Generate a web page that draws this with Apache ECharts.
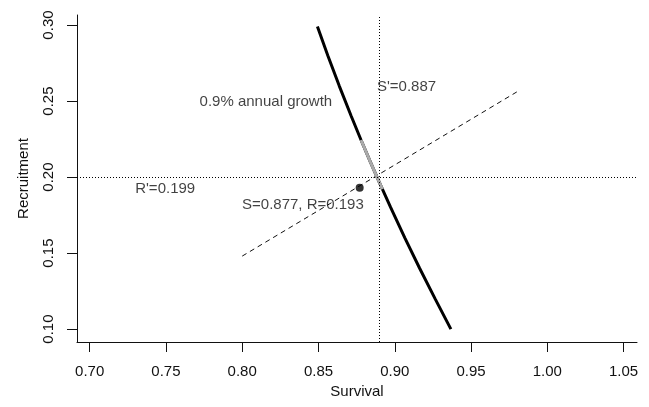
<!DOCTYPE html>
<html>
<head>
<meta charset="utf-8">
<script src="https://cdn.jsdelivr.net/npm/echarts@6/dist/echarts.min.js"></script>
<style>
html,body{margin:0;padding:0;background:#fff;}
#chart{width:649px;height:407px;}
</style>
</head>
<body>
<div id="chart"></div>
<script>
// ---- data ----
const xTicks = [0.70, 0.75, 0.80, 0.85, 0.90, 0.95, 1.00, 1.05];
const yTicks = [0.10, 0.15, 0.20, 0.25, 0.30];

// growth isocline (0.9% annual growth): survival vs recruitment
const curveS = [0.8493, 0.8561, 0.8636, 0.8715, 0.8779, 0.8840, 0.8888, 0.8919, 0.8973, 0.9066, 0.9163, 0.9264, 0.9368];
const curveR = [0.299, 0.280, 0.260, 0.240, 0.2244, 0.210, 0.199, 0.192, 0.180, 0.160, 0.140, 0.120, 0.100];

// grey highlighted part of the isocline
const greyS = [0.8779, 0.8840, 0.8888, 0.8919];
const greyR = [0.2244, 0.210, 0.199, 0.192];

// dashed line
const dashS = [0.800, 0.980];
const dashR = [0.148, 0.256];

// observed point
const pointS = [0.877];
const pointR = [0.193];

// reference lines
const sPrime = 0.887;
const rPrime = 0.199;

// annotations
const annTexts = ["0.9% annual growth", "S'=0.887", "R'=0.199", "S=0.877, R=0.193"];
const annS = [0.8155, 0.887, 0.7495, 0.8398];
const annR = [0.2496, 0.2595, 0.192, 0.1817];
const annPos = ['inside', 'right', 'inside', 'inside'];

// ---- chart ----
const zip = (a, b) => a.map((v, i) => [v, b[i]]);
const txt = '#111111';
const font = 'Liberation Sans, Arial, sans-serif';

const chart = echarts.init(document.getElementById('chart'), null, {renderer: 'canvas'});
chart.setOption({
  animation: false,
  backgroundColor: '#ffffff',
  grid: {left: 77, right: 12, top: 15, bottom: 65, containLabel: false},
  xAxis: {
    type: 'value', min: 0.6917, max: 1.0588,
    name: 'Survival', nameLocation: 'middle', nameGap: 42,
    nameTextStyle: {color: txt, fontSize: 15, fontFamily: font},
    axisLine: {show: true, lineStyle: {color: '#111', width: 1}},
    axisTick: {show: true, inside: false, length: 10, customValues: xTicks, lineStyle: {color: '#111', width: 1}},
    axisLabel: {show: true, customValues: xTicks, margin: 22, color: txt, fontSize: 15, fontFamily: font,
      formatter: v => v.toFixed(2)},
    splitLine: {show: false}
  },
  yAxis: {
    type: 'value', min: 0.0915, max: 0.3066,
    name: 'Recruitment', nameLocation: 'middle', nameGap: 46, nameRotate: 90,
    nameTextStyle: {color: txt, fontSize: 15, fontFamily: font},
    axisLine: {show: true, lineStyle: {color: '#111', width: 1}},
    axisTick: {show: true, inside: false, length: 10, customValues: yTicks, lineStyle: {color: '#111', width: 1}},
    axisLabel: {show: true, customValues: yTicks, margin: 21, rotate: 90, color: txt, fontSize: 15, fontFamily: font,
      formatter: v => v.toFixed(2)},
    splitLine: {show: false}
  },
  series: [
    {
      type: 'line', name: 'dashed', data: zip(dashS, dashR), symbol: 'none',
      lineStyle: {color: '#111', width: 1, type: [5, 4]},
      markLine: {
        silent: true, symbol: 'none', label: {show: false},
        lineStyle: {color: '#000', width: 1, type: [1, 2]},
        data: [{xAxis: sPrime}, {yAxis: rPrime}]
      },
      z: 2
    },
    {
      type: 'line', name: 'isocline', data: zip(curveS, curveR), symbol: 'none',
      lineStyle: {color: '#000', width: 3}, z: 3
    },
    {
      type: 'line', name: 'grey', data: zip(greyS, greyR), symbol: 'none',
      lineStyle: {color: '#aaaaaa', width: 3}, z: 4
    },
    {
      type: 'scatter', name: 'point', data: zip(pointS, pointR), symbol: 'circle', symbolSize: 8,
      itemStyle: {color: '#000'}, z: 5
    },
    {
      type: 'scatter', name: 'labels', symbolSize: 0, silent: true, z: 6,
      data: annTexts.map((t, i) => ({
        value: [annS[i], annR[i]],
        label: {
          show: true, formatter: t, position: annPos[i], distance: 2,
          color: txt, fontSize: 15, fontFamily: font
        }
      }))
    }
  ]
});
</script>
</body>
</html>
